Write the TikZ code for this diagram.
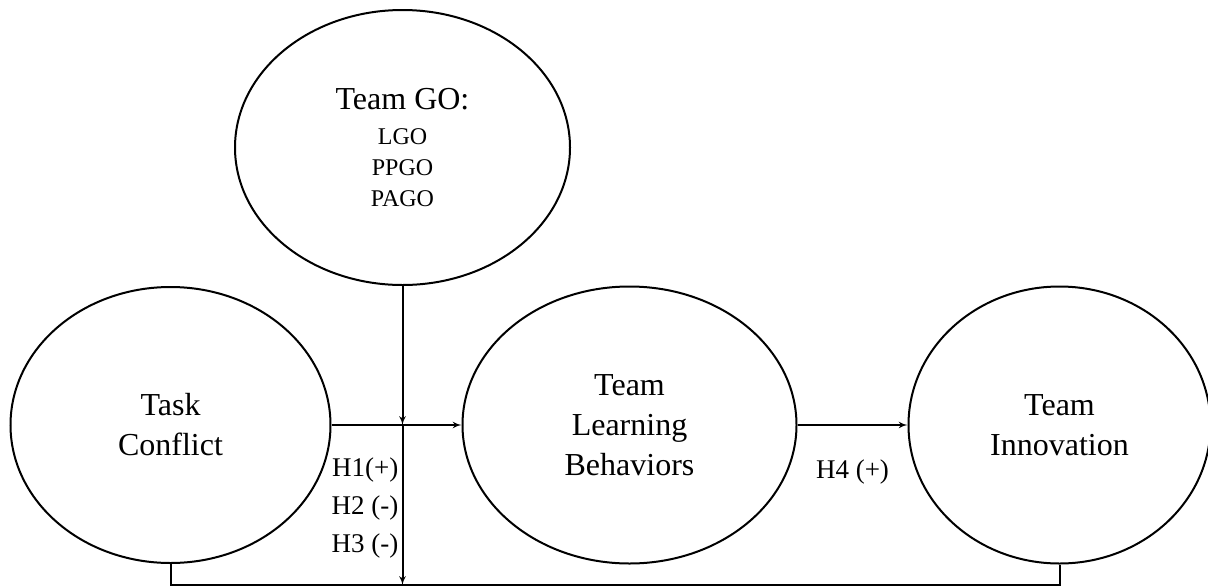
\documentclass[tikz,border=0pt]{standalone}
\usepackage{fontspec}
\setmainfont{Liberation Serif}
\usetikzlibrary{shapes.geometric,positioning,arrows}

\begin{document}
\begin{tikzpicture}[x=1pt,y=-1pt]
  \tikzset{
    var/.style={draw, ellipse, line width=2pt, inner sep=0pt, align=center, font=\fontsize{32}{40}\selectfont},
    hyp/.style={inner sep=0pt, align=right, font=\fontsize{27}{38}\selectfont},
    line/.style={draw, line width=2pt, -latex'}
  }
  \useasboundingbox (0,0) rectangle (1208,587);
  \node [var, minimum width=335pt, minimum height=275pt, font=\fontsize{24}{31}\selectfont] (go) at (402.5,147.5) {{\fontsize{32}{40}\selectfont Team GO:}\\[4pt]LGO\\PPGO\\PAGO};
  \node [var, minimum width=320pt, minimum height=276pt] (tc) at (170.5,425) {Task\\Conflict};
  \node [var, minimum width=334pt, minimum height=277pt, right=130pt of tc] (tlb) {Team\\Learning\\Behaviors};
  \node [var, minimum width=302pt, minimum height=277pt, right=110pt of tlb] (ti) {Team\\Innovation};

  \coordinate (mod) at (go.south |- tc.east);
  \coordinate (bot) at (402.5,585);

  \path [line] (go) -- (mod);
  \path [line] (mod) -- (bot);
  \path [line] (tc) -- (tlb);
  \path [line] (tlb) -- node[hyp, below=34pt] (h4) {H4 (+)} (ti);
  \draw [line width=2pt] (tc) |- (bot) -| (ti);
  \node [hyp, below left=33pt and 4pt of mod] (h13) {H1(+)\\H2 (-)\\H3 (-)};
\end{tikzpicture}
\end{document}
